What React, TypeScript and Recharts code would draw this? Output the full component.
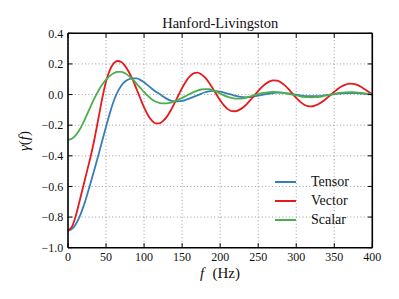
import React from 'react';
import { LineChart, Line, XAxis, YAxis, CartesianGrid, Legend } from 'recharts';

const FREQS = [
  0, 5, 10, 15, 20, 25, 30, 35, 40, 45, 50, 55, 60, 65, 70, 75, 80, 85, 90, 95,
  100, 105, 110, 115, 120, 125, 130, 135, 140, 145, 150, 155, 160, 165, 170, 175, 180, 185, 190, 195,
  200, 205, 210, 215, 220, 225, 230, 235, 240, 245, 250, 255, 260, 265, 270, 275, 280, 285, 290, 295,
  300, 305, 310, 315, 320, 325, 330, 335, 340, 345, 350, 355, 360, 365, 370, 375, 380, 385, 390, 395, 400,
];

const TENSOR = [
  -0.89, -0.878, -0.848, -0.8, -0.735, -0.657, -0.572, -0.484, -0.394, -0.302,
  -0.21, -0.122, -0.044, 0.016, 0.058, 0.085, 0.1, 0.106, 0.105, 0.096,
  0.08, 0.06, 0.04, 0.02, 0.005, -0.012, -0.028, -0.04, -0.045, -0.045,
  -0.042, -0.035, -0.025, -0.015, -0.005, 0.005, 0.015, 0.021, 0.024, 0.023,
  0.019, 0.013, 0.006, -0.001, -0.008, -0.014, -0.017, -0.018, -0.016, -0.012,
  -0.007, -0.002, 0.003, 0.007, 0.01, 0.012, 0.012, 0.01, 0.007, 0.003,
  -0.001, -0.005, -0.008, -0.01, -0.011, -0.011, -0.01, -0.007, -0.004, -0.001,
  0.003, 0.006, 0.008, 0.009, 0.01, 0.01, 0.009, 0.007, 0.005, 0.003, 0.001,
];

const VECTOR = [
  -0.886, -0.864, -0.796, -0.7, -0.6, -0.5, -0.4, -0.285, -0.155, -0.025,
  0.085, 0.16, 0.204, 0.219, 0.212, 0.187, 0.147, 0.097, 0.037, -0.024,
  -0.084, -0.133, -0.169, -0.188, -0.188, -0.172, -0.144, -0.104, -0.056, -0.006,
  0.043, 0.086, 0.119, 0.138, 0.143, 0.133, 0.112, 0.081, 0.043, 0.002,
  -0.037, -0.071, -0.095, -0.108, -0.109, -0.1, -0.084, -0.062, -0.035, -0.005,
  0.023, 0.05, 0.071, 0.086, 0.093, 0.091, 0.079, 0.06, 0.035, 0.006,
  -0.022, -0.046, -0.065, -0.075, -0.077, -0.071, -0.06, -0.044, -0.024, -0.003,
  0.018, 0.038, 0.054, 0.065, 0.071, 0.07, 0.063, 0.051, 0.035, 0.018, 0.0,
];

const SCALAR = [
  -0.295, -0.288, -0.266, -0.232, -0.185, -0.13, -0.075, -0.022, 0.025, 0.065,
  0.097, 0.122, 0.139, 0.148, 0.148, 0.139, 0.122, 0.099, 0.072, 0.044,
  0.016, -0.009, -0.03, -0.045, -0.054, -0.058, -0.057, -0.052, -0.044, -0.034,
  -0.022, -0.009, 0.004, 0.016, 0.026, 0.033, 0.036, 0.035, 0.029, 0.019,
  0.007, -0.005, -0.015, -0.022, -0.026, -0.027, -0.025, -0.019, -0.012, -0.004,
  0.003, 0.009, 0.013, 0.016, 0.017, 0.016, 0.013, 0.009, 0.004, -0.001,
  -0.006, -0.011, -0.015, -0.017, -0.018, -0.017, -0.015, -0.011, -0.006, -0.001,
  0.004, 0.009, 0.012, 0.014, 0.015, 0.015, 0.013, 0.011, 0.008, 0.005, 0.002,
];

const X_TICKS = [0, 50, 100, 150, 200, 250, 300, 350, 400];
const Y_TICKS = [-1.0, -0.8, -0.6, -0.4, -0.2, 0.0, 0.2, 0.4];
const SERIES_NAMES = ['Tensor', 'Vector', 'Scalar'];
const SERIES_COLORS = ['#377eb8', '#e41a1c', '#4daf4a'];

const data = FREQS.map((f, i) => ({
  f,
  tensor: TENSOR[i],
  vector: VECTOR[i],
  scalar: SCALAR[i],
}));

const FONT = '"Liberation Serif", "Times New Roman", serif';

const fmtY = (v: number) => {
  const a = Math.abs(v).toFixed(1);
  return v < -1e-9 ? '\u2212' + a : a;
};

const renderLegend = (props: any) => {
  const items = [...(props.payload || [])].sort(
    (a: any, b: any) => SERIES_NAMES.indexOf(a.value) - SERIES_NAMES.indexOf(b.value)
  );
  return (
    <div style={{ fontFamily: FONT, fontSize: 14, color: '#111' }}>
      {items.map((it: any, i: number) => (
        <div key={i} style={{ display: 'flex', alignItems: 'center', height: 19.2 }}>
          <svg width={21} height={4} style={{ display: 'block' }}>
            <line x1={0} y1={2} x2={21} y2={2} stroke={it.color} strokeWidth={2} />
          </svg>
          <span style={{ marginLeft: 15, lineHeight: '19.2px', whiteSpace: 'nowrap' }}>{it.value}</span>
        </div>
      ))}
    </div>
  );
};

const emptyTick = () => <g />;

const XTick = (props: any) => {
  const { x, y, payload } = props;
  return (
    <text x={x} y={y} dy="0.71em" textAnchor="middle" fontFamily={FONT} fontSize={12} fill="#111">
      {String(payload.value)}
    </text>
  );
};

const YTick = (props: any) => {
  const { x, y, payload } = props;
  return (
    <text x={x} y={y} dy="0.355em" textAnchor="end" fontFamily={FONT} fontSize={12} fill="#111">
      {fmtY(payload.value)}
    </text>
  );
};

export default function App() {
  const axisLineStyle = { stroke: '#000', strokeWidth: 1.6 };
  const tickLineStyle = { stroke: '#000', strokeWidth: 1 };
  return (
    <div style={{ position: 'absolute', left: 0, top: 0, width: 399, height: 299 }}>
      <LineChart
        width={399}
        height={299}
        data={data}
        margin={{ top: 32.3, right: 25.7, bottom: 21.3, left: 8 }}
      >
        <CartesianGrid stroke="#9a9a9a" strokeWidth={1} strokeDasharray="1 2.4" />
        <XAxis
          dataKey="f"
          type="number"
          domain={[0, 400]}
          ticks={X_TICKS}
          interval={0}
          allowDataOverflow
          height={30}
          tickSize={-4.5}
          tickMargin={9}
          tick={XTick}
          axisLine={axisLineStyle}
          tickLine={tickLineStyle}
        />
        <XAxis
          xAxisId="top"
          orientation="top"
          dataKey="f"
          type="number"
          domain={[0, 400]}
          ticks={X_TICKS}
          interval={0}
          allowDataOverflow
          height={1}
          tickSize={-4.5}
          tick={emptyTick}
          axisLine={axisLineStyle}
          tickLine={tickLineStyle}
        />
        <YAxis
          type="number"
          domain={[-1, 0.4]}
          ticks={Y_TICKS}
          interval={0}
          allowDataOverflow
          width={60}
          tickSize={-4.5}
          tickMargin={9.2}
          tick={YTick}
          axisLine={axisLineStyle}
          tickLine={tickLineStyle}
        />
        <YAxis
          yAxisId="right"
          orientation="right"
          type="number"
          domain={[-1, 0.4]}
          ticks={Y_TICKS}
          interval={0}
          allowDataOverflow
          width={1}
          tickSize={-4.5}
          tick={emptyTick}
          axisLine={axisLineStyle}
          tickLine={tickLineStyle}
        />
        <Line
          type="monotone"
          dataKey="tensor"
          name={SERIES_NAMES[0]}
          stroke={SERIES_COLORS[0]}
          strokeWidth={1.8}
          dot={false}
          isAnimationActive={false}
        />
        <Line
          type="monotone"
          dataKey="vector"
          name={SERIES_NAMES[1]}
          stroke={SERIES_COLORS[1]}
          strokeWidth={1.8}
          dot={false}
          isAnimationActive={false}
        />
        <Line
          type="monotone"
          dataKey="scalar"
          name={SERIES_NAMES[2]}
          stroke={SERIES_COLORS[2]}
          strokeWidth={1.8}
          dot={false}
          isAnimationActive={false}
        />
        <Legend
          layout="vertical"
          align="center"
          verticalAlign="middle"
          content={renderLegend}
          wrapperStyle={{ left: 275, top: 172.1, right: 'auto', bottom: 'auto', width: 110, margin: 0 }}
        />
      </LineChart>
      <svg
        width={399}
        height={299}
        style={{ position: 'absolute', left: 0, top: 0, pointerEvents: 'none' }}
      >
        <text x={220.2} y={28.3} textAnchor="middle" fontFamily={FONT} fontSize={14.5} fill="#111">
          Hanford-Livingston
        </text>
        <text y={278} fontFamily={FONT} fontSize={15} fill="#111">
          <tspan x={200} fontStyle="italic">f</tspan>
          <tspan x={212.5}>(Hz)</tspan>
        </text>
        <text
          x={29}
          y={141}
          textAnchor="middle"
          fontFamily={FONT}
          fontSize={15}
          fill="#111"
          transform="rotate(-90 29 141)"
        >
          <tspan fontStyle="italic">γ</tspan>
          <tspan>(</tspan>
          <tspan fontStyle="italic">f</tspan>
          <tspan>)</tspan>
        </text>
      </svg>
    </div>
  );
}
